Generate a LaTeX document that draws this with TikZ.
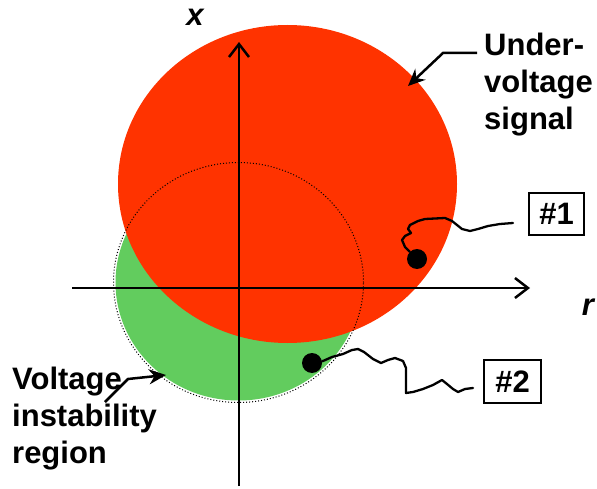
\documentclass[tikz,border=0pt]{standalone}
\usepackage{fontspec}
\setmainfont{Liberation Sans}
\usetikzlibrary{arrows.meta}
\definecolor{uvred}{HTML}{FF3300}
\definecolor{vigreen}{HTML}{62CC5E}
\begin{document}
\begin{tikzpicture}[x=1pt,y=-1pt,
  lbl/.style={inner sep=0pt,font=\fontsize{31}{37}\selectfont\bfseries,align=left},
  axlbl/.style={inner sep=0pt,font=\fontsize{31}{37}\selectfont\bfseries\itshape},
  axis/.style={line width=2.5pt,-{Straight Barb[length=13pt,width=20pt,line width=2.5pt]}},
  wiggle/.style={line width=2.3pt,line join=round,line cap=round},
  dotmark/.style={circle,fill=black,minimum size=20pt,inner sep=0pt},
  tagbox/.style={draw,line width=2pt,inner sep=0pt,font=\fontsize{31}{37}\selectfont\bfseries},
  pointer/.style={line width=2.5pt,-{Stealth[length=17pt,width=15pt]}}]
\useasboundingbox (0,0) rectangle (597,489);
% regions
\fill[vigreen] (238.5,282.5) ellipse [x radius=123pt, y radius=118pt];
\fill[uvred] (287.5,184) ellipse [x radius=169.5pt, y radius=159pt];
\draw[line width=1pt,dash pattern=on 1pt off 2pt] (238.5,282.5) ellipse [x radius=125pt, y radius=120pt];
% axes
\coordinate (xo) at (72,288);
\coordinate (xe) at (530,288);
\coordinate (yo) at (239,486);
\coordinate (ye) at (239,42);
\draw[axis] (xo) -- (xe);
\draw[axis] (yo) -- (ye);
\node[axlbl,anchor=base] (xl) at (195,26) {x};
\node[axlbl,anchor=base] (rl) at (588,315) {r};
% marks and tags
\node[dotmark] (d1) at (417,259) {};
\node[dotmark] (d2) at (312,363) {};
\node[tagbox,minimum width=55pt,minimum height=42pt] (b1) at (556.5,214) {\#1};
\node[tagbox,minimum width=57pt,minimum height=43pt] (b2) at (512.5,381.5) {\#2};
\coordinate (e1) at (513,223);
\coordinate (e2) at (473,388);
\draw[wiggle] (d1) -- (405,247) -- (402,240) -- (405,236) -- (411,233) -- (408,229) -- (410,225) -- (418,221) -- (425,219) -- (445,218) -- (452,221) -- (462,229) -- (470,231) -- (478,229) -- (488,226) -- (500,224) -- (e1);
\draw[wiggle] (d2) -- (323,361) -- (332,357) -- (343,354) -- (352,350) -- (358,349) -- (364,352) -- (373,359) -- (381,363) -- (388,360) -- (395,358) -- (403,361) -- (406,368) -- (406,393) -- (413,392) -- (423,389) -- (433,385) -- (442,380) -- (447,384) -- (453,389) -- (458,392) -- (465,389) -- (e2);
% labels
\node[lbl,anchor=north west] (uv) at (484,33) {Under-\\voltage\\signal};
\node[lbl,anchor=north west] (vi) at (12,367) {Voltage\\instability\\region};
\coordinate (uvs) at (477,53);
\coordinate (uvt) at (408,86);
\draw[pointer] (uvs) -- (443,53) -- (uvt);
\coordinate (vis) at (105,402);
\coordinate (vit) at (166,375);
\draw[pointer] (vis) -- (128,379) -- (vit);
\end{tikzpicture}
\end{document}
